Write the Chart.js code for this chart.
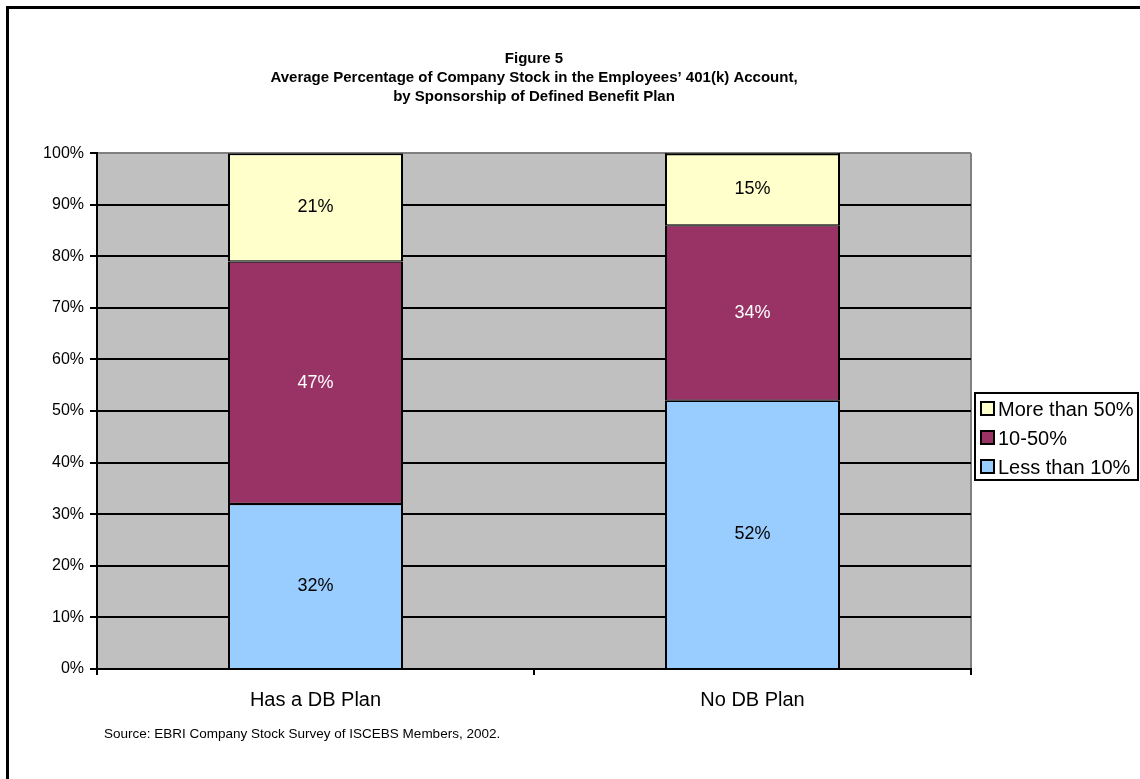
<!DOCTYPE html>
<html>
<head>
<meta charset="utf-8">
<title>Figure 5</title>
<script src="https://cdn.jsdelivr.net/npm/chart.js@4.4.1/dist/chart.umd.min.js"></script>
<style>
  html, body { margin: 0; padding: 0; background: #ffffff; }
  #wrap { position: relative; width: 1140px; height: 779px; }
</style>
</head>
<body>
<div id="wrap"><canvas id="chart" width="1140" height="779"></canvas></div>
<script>
// ---- data ----
const categories = ['Has a DB Plan', 'No DB Plan'];
const seriesNames = ['Less than 10%', '10-50%', 'More than 50%'];
const lessThan10 = [32, 52];
const tenTo50 = [47, 34];
const moreThan50 = [21, 15];
const yTickValues = [0, 10, 20, 30, 40, 50, 60, 70, 80, 90, 100];
const titleLines = [
  'Figure 5',
  'Average Percentage of Company Stock in the Employees\u2019 401(k) Account,',
  'by Sponsorship of Defined Benefit Plan'
];
const sourceNote = 'Source: EBRI Company Stock Survey of ISCEBS Members, 2002.';

// ---- styling ----
const FONT = "'Liberation Sans', Arial, Helvetica, sans-serif";
const colors = ['#99CCFF', '#993366', '#FFFFCC'];
const labelColors = ['#000000', '#FFFFFF', '#000000'];
const PLOT_BG = '#C0C0C0';

// Plot background, frame and right edge of the plot
const backdrop = {
  id: 'backdrop',
  beforeDraw(chart) {
    const { ctx, chartArea: a, width, height } = chart;
    ctx.save();
    ctx.fillStyle = '#ffffff';
    ctx.fillRect(0, 0, width, height);
    ctx.strokeStyle = '#000000';
    ctx.lineWidth = 3;
    ctx.beginPath();
    ctx.moveTo(7.5, height + 5);
    ctx.lineTo(7.5, 7.5);
    ctx.lineTo(width + 5, 7.5);
    ctx.stroke();
    ctx.fillStyle = PLOT_BG;
    ctx.fillRect(a.left, a.top, a.right - a.left, a.bottom - a.top);
    ctx.strokeStyle = '#808080';
    ctx.lineWidth = 2;
    ctx.beginPath();
    ctx.moveTo(a.right, a.top);
    ctx.lineTo(a.right, a.bottom);
    ctx.stroke();
    ctx.restore();
  }
};

// Value labels centred in each segment, plus a top edge for stacks that reach the ceiling
const segmentLabels = {
  id: 'segmentLabels',
  afterDatasetsDraw(chart) {
    const { ctx, chartArea: a } = chart;
    ctx.save();
    ctx.font = '18px ' + FONT;
    ctx.textAlign = 'center';
    ctx.textBaseline = 'middle';
    chart.data.datasets.forEach((ds, i) => {
      const meta = chart.getDatasetMeta(i);
      meta.data.forEach((el, j) => {
        const top = Math.max(el.y, a.top);
        const cy = (top + el.base) / 2;
        ctx.fillStyle = labelColors[i];
        ctx.fillText(ds.data[j] + '%', el.x, cy);
        if (i === chart.data.datasets.length - 1 && el.y < a.top) {
          ctx.strokeStyle = '#000000';
          ctx.lineWidth = 2;
          ctx.beginPath();
          ctx.moveTo(el.x - el.width / 2, a.top + 1);
          ctx.lineTo(el.x + el.width / 2, a.top + 1);
          ctx.stroke();
        }
      });
    });
    ctx.restore();
  }
};

// Boxed legend to the right of the plot, listed top stack first
const boxedLegend = {
  id: 'boxedLegend',
  afterDraw(chart) {
    const { ctx, chartArea: a } = chart;
    const items = chart.data.datasets.map(d => ({ label: d.label, color: d.backgroundColor })).reverse();
    const x0 = a.right + 3;
    const y0 = a.top + (a.bottom - a.top) * 0.463;
    const w = 165, h = 89, rowH = 29;
    ctx.save();
    ctx.fillStyle = '#ffffff';
    ctx.fillRect(x0, y0, w, h);
    ctx.strokeStyle = '#000000';
    ctx.lineWidth = 2;
    ctx.strokeRect(x0 + 1, y0 + 1, w - 2, h - 2);
    ctx.font = '20px ' + FONT;
    ctx.textAlign = 'left';
    ctx.textBaseline = 'middle';
    items.forEach((it, k) => {
      const cy = y0 + 17 + k * rowH;
      ctx.fillStyle = it.color;
      ctx.fillRect(x0 + 7, cy - 7, 13, 13);
      ctx.lineWidth = 2;
      ctx.strokeRect(x0 + 7, cy - 7, 13, 13);
      ctx.fillStyle = '#000000';
      ctx.fillText(it.label, x0 + 24, cy + 1);
    });
    ctx.restore();
  }
};

// Source line under the category labels
const sourceLine = {
  id: 'sourceLine',
  afterDraw(chart) {
    const { ctx, chartArea: a } = chart;
    ctx.save();
    ctx.font = '13.5px ' + FONT;
    ctx.fillStyle = '#000000';
    ctx.textAlign = 'left';
    ctx.textBaseline = 'middle';
    ctx.fillText(sourceNote, a.left + 7, a.bottom + 65);
    ctx.restore();
  }
};

const seriesData = [lessThan10, tenTo50, moreThan50];
const borderSides = [
  { top: 1.2, bottom: 0, left: 2, right: 2 },
  { top: 1.2, bottom: 1.2, left: 2, right: 2 },
  { top: 2, bottom: 1.2, left: 2, right: 2 }
];

new Chart(document.getElementById('chart'), {
  type: 'bar',
  data: {
    labels: categories,
    datasets: seriesNames.map((name, i) => ({
      label: name,
      data: seriesData[i],
      backgroundColor: colors[i],
      borderColor: '#000000',
      borderWidth: borderSides[i],
      borderSkipped: false,
      inflateAmount: 0,
      barThickness: 175,
      clip: { left: 5, right: 5, top: 0, bottom: 5 }
    }))
  },
  options: {
    responsive: false,
    animation: false,
    devicePixelRatio: 1,
    layout: { padding: { top: 42, right: 169, bottom: 0, left: 0 } },
    plugins: {
      legend: { display: false },
      tooltip: { enabled: false },
      title: {
        display: true,
        fullSize: false,
        text: titleLines,
        color: '#000000',
        font: { family: FONT, size: 15, weight: 'bold', lineHeight: 1.27 },
        padding: { top: 7, bottom: 47 }
      }
    },
    scales: {
      x: {
        stacked: true,
        offset: true,
        grid: {
          offset: true,
          drawOnChartArea: false,
          drawTicks: true,
          tickLength: 6,
          color: '#000000',
          lineWidth: 2
        },
        border: { display: true, color: '#000000', width: 2 },
        ticks: {
          color: '#000000',
          font: { family: FONT, size: 20 },
          padding: 13
        },
        afterFit(scale) { scale.height = 110; }
      },
      y: {
        stacked: true,
        min: 0,
        max: 100,
        afterBuildTicks(scale) { scale.ticks = yTickValues.map(v => ({ value: v })); },
        grid: {
          color: ctx => (ctx.tick && ctx.tick.value === 100 ? '#808080' : '#000000'),
          lineWidth: 2,
          tickLength: 7,
          tickColor: '#000000'
        },
        border: { display: true, color: '#000000', width: 2 },
        ticks: {
          color: '#000000',
          font: { family: FONT, size: 16 },
          padding: 6,
          callback: v => v + '%'
        },
        afterFit(scale) { scale.width = 97; }
      }
    }
  },
  plugins: [backdrop, segmentLabels, boxedLegend, sourceLine]
});
</script>
</body>
</html>
